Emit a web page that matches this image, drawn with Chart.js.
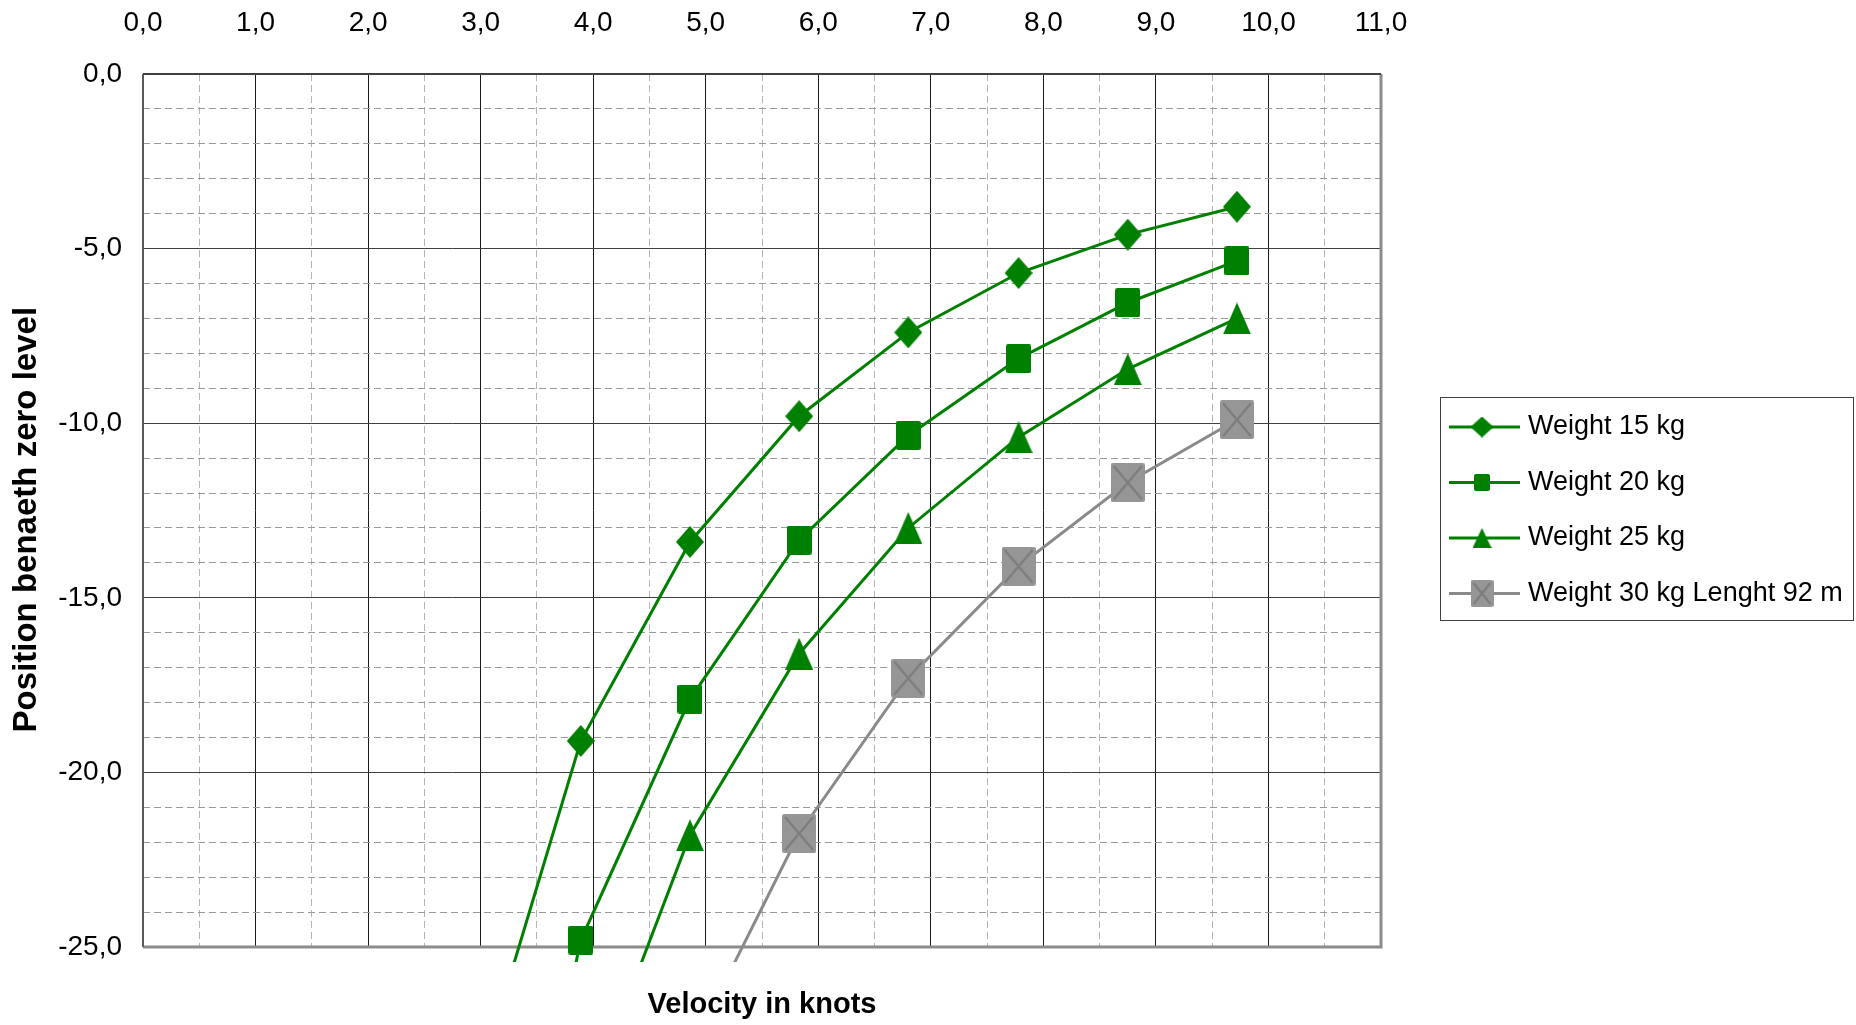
<!DOCTYPE html>
<html>
<head>
<meta charset="utf-8">
<title>Position beneath zero level vs velocity</title>
<script src="https://cdn.jsdelivr.net/npm/chart.js@4.4.1/dist/chart.umd.min.js"></script>
<style>
  html, body { margin: 0; padding: 0; background: #fff; }
  #wrap { width: 1856px; height: 1025px; position: relative; }
</style>
</head>
<body>
<div id="wrap"><canvas id="chart"></canvas></div>
<script>
// velocity in knots, shared by all series
const knots = [2.92, 3.89, 4.86, 5.83, 6.80, 7.78, 8.75, 9.72];

// position below zero level (m) for each knot value, null = no point
const weight15 = [-29.5, -19.1, -13.4, -9.8, -7.4, -5.7, -4.6, -3.8];
const weight20 = [-39.5, -24.8, -17.9, -13.35, -10.35, -8.15, -6.55, -5.35];
const weight25 = [null, -30.0, -21.8, -16.6, -13.0, -10.4, -8.45, -7.0];
const weight30 = [null, null, -28.0, -21.75, -17.3, -14.1, -11.7, -9.9];

const seriesNames = ['Weight 15 kg', 'Weight 20 kg', 'Weight 25 kg', 'Weight 30 kg Lenght 92 m'];

// axis ticks
const xTickValues = [0, 1, 2, 3, 4, 5, 6, 7, 8, 9, 10, 11];
const yTickValues = [0, -5, -10, -15, -20, -25];

const GREEN = '#008000';
const GREY_LINE = '#8a8a8a';
const GREY_FILL = '#969696';
const GREY_MARK = '#7c7c7c';

Chart.defaults.font.family = "'Liberation Sans', Arial, sans-serif";
Chart.defaults.color = '#000';

/**
 * Build a marker bitmap used as pointStyle
 */
function makeMarker(kind, w, h, fill, mark) {
    const c = document.createElement('canvas');
    c.width = w;
    c.height = h;
    const g = c.getContext('2d');
    g.fillStyle = fill;
    g.beginPath();
    if (kind === 'diamond') {
        g.moveTo(w / 2, 0); g.lineTo(w, h / 2); g.lineTo(w / 2, h); g.lineTo(0, h / 2);
    } else if (kind === 'triangle') {
        g.moveTo(w / 2, 0); g.lineTo(w, h); g.lineTo(0, h);
    } else if (g.roundRect) {
        g.roundRect(0, 0, w, h, 2);
    } else {
        g.rect(0, 0, w, h);
    }
    g.closePath();
    g.fill();
    if (kind === 'crossbox') {
        g.strokeStyle = mark;
        g.lineWidth = 2;
        g.beginPath();
        g.moveTo(3, 3); g.lineTo(w - 3, h - 3);
        g.moveTo(w - 3, 3); g.lineTo(3, h - 3);
        g.stroke();
    }
    return c;
}

const markers = [
    makeMarker('diamond', 28, 32, GREEN),
    makeMarker('square', 25, 29, GREEN),
    makeMarker('triangle', 28, 32, GREEN),
    makeMarker('crossbox', 34, 39, GREY_FILL, GREY_MARK)
];
const legendMarkers = [
    makeMarker('diamond', 23, 21, GREEN),
    makeMarker('square', 16, 17, GREEN),
    makeMarker('triangle', 19, 20, GREEN),
    makeMarker('crossbox', 23, 27, GREY_FILL, GREY_MARK)
];

function toPoints(values) {
    return knots.map((k, i) => ({ x: k, y: values[i] }));
}

function fmt(v) {
    return Number(v).toFixed(1).replace('.', ',');
}

const allValues = [weight15, weight20, weight25, weight30];
const colors = [GREEN, GREEN, GREEN, GREY_LINE];

const datasets = allValues.map((vals, i) => ({
    label: seriesNames[i],
    data: toPoints(vals),
    borderColor: colors[i],
    backgroundColor: colors[i],
    borderWidth: 3,
    tension: 0,
    pointStyle: markers[i],
    pointRadius: 16,
    pointHoverRadius: 16,
    clip: { left: 0, top: 0, right: 0, bottom: 15 },
    xAxisID: 'x',
    yAxisID: 'y'
}));

// plot frame: grey left/bottom/right, dark top
const framePlugin = {
    id: 'frame',
    beforeDatasetsDraw(chart) {
        const { ctx, chartArea: a } = chart;
        ctx.save();
        ctx.lineWidth = 3;
        ctx.strokeStyle = '#8c8c8c';
        ctx.beginPath();
        ctx.moveTo(a.left, a.bottom);
        ctx.lineTo(a.right, a.bottom);
        ctx.lineTo(a.right, a.top);
        ctx.stroke();
        ctx.lineWidth = 2;
        ctx.strokeStyle = '#5a5a5a';
        ctx.beginPath();
        ctx.moveTo(a.left, a.bottom);
        ctx.lineTo(a.left, a.top);
        ctx.stroke();
        ctx.strokeStyle = '#404040';
        ctx.beginPath();
        ctx.moveTo(a.left, a.top);
        ctx.lineTo(a.right, a.top);
        ctx.stroke();
        ctx.restore();
    }
};

// boxed legend on the right with line + marker samples
const boxLegendPlugin = {
    id: 'boxLegend',
    afterDraw(chart) {
        const { ctx, chartArea: a } = chart;
        const left = a.right + 59;
        const top = 397;
        const width = 413;
        const height = 223;
        ctx.save();
        ctx.fillStyle = '#fff';
        ctx.fillRect(left, top, width, height);
        ctx.strokeStyle = '#404040';
        ctx.lineWidth = 1;
        ctx.strokeRect(left + 0.5, top + 0.5, width, height);
        ctx.font = "27px 'Liberation Sans', Arial, sans-serif";
        ctx.textBaseline = 'middle';
        ctx.textAlign = 'left';
        chart.data.datasets.forEach((ds, i) => {
            const y = top + 30 + i * 55.5;
            ctx.strokeStyle = ds.borderColor;
            ctx.lineWidth = 3;
            ctx.beginPath();
            ctx.moveTo(left + 9, y);
            ctx.lineTo(left + 80, y);
            ctx.stroke();
            const m = legendMarkers[i];
            ctx.drawImage(m, left + 42 - m.width / 2, y - m.height / 2);
            ctx.fillStyle = '#000';
            ctx.fillText(ds.label, left + 88, y);
        });
        ctx.restore();
    }
};

const transparent = 'rgba(0,0,0,0)';

new Chart(document.getElementById('chart'), {
    type: 'line',
    data: { datasets: datasets },
    options: {
        responsive: true,
        maintainAspectRatio: false,
        animation: false,
        layout: { padding: { left: 0, top: 0, right: 475, bottom: 0 } },
        plugins: {
            legend: { display: false },
            tooltip: { enabled: false }
        },
        scales: {
            x: {
                type: 'linear',
                position: 'top',
                min: 0,
                max: 11,
                afterBuildTicks: s => { s.ticks = xTickValues.map(v => ({ value: v })); },
                afterFit: s => { s.height = 74; },
                ticks: {
                    autoSkip: false,
                    maxRotation: 0,
                    padding: 34,
                    font: { size: 28 },
                    callback: v => fmt(v)
                },
                grid: { color: '#1a1a1a', lineWidth: 1, drawTicks: false },
                border: { display: false }
            },
            xMinor: {
                type: 'linear',
                position: 'bottom',
                min: 0,
                max: 11,
                ticks: { display: false, stepSize: 0.5 },
                afterFit: s => { s.height = 78; },
                grid: {
                    drawTicks: false,
                    lineWidth: 1,
                    color: c => (c.tick && Number.isInteger(c.tick.value)) ? transparent : '#b4b4b4'
                },
                border: { display: false, dash: [7, 4] },
                title: {
                    display: true,
                    text: 'Velocity in knots',
                    color: '#000',
                    font: { size: 29, weight: 'bold' },
                    padding: { top: 0, bottom: 3 }
                }
            },
            y: {
                type: 'linear',
                position: 'left',
                min: -25,
                max: 0,
                afterBuildTicks: s => { s.ticks = yTickValues.map(v => ({ value: v })); },
                afterFit: s => { s.width = 143; },
                ticks: {
                    padding: 21,
                    font: { size: 28 },
                    callback: v => fmt(v)
                },
                grid: { color: '#404040', lineWidth: 1, drawTicks: false },
                border: { display: false },
                title: {
                    display: true,
                    // trailing spaces nudge the rotated title down a little, like the original
                    text: 'Position benaeth zero level  ',
                    color: '#000',
                    font: { size: 33, weight: 'bold' },
                    padding: { top: 7, bottom: 0 }
                }
            },
            yMinor: {
                type: 'linear',
                position: 'left',
                min: -25,
                max: 0,
                ticks: { display: false, stepSize: 1 },
                afterFit: s => { s.width = 0; },
                grid: {
                    drawTicks: false,
                    lineWidth: 1,
                    color: c => (c.tick && c.tick.value % 5 === 0) ? transparent : '#9a9a9a'
                },
                border: { display: false, dash: [7, 4] }
            }
        }
    },
    plugins: [framePlugin, boxLegendPlugin]
});
</script>
</body>
</html>
